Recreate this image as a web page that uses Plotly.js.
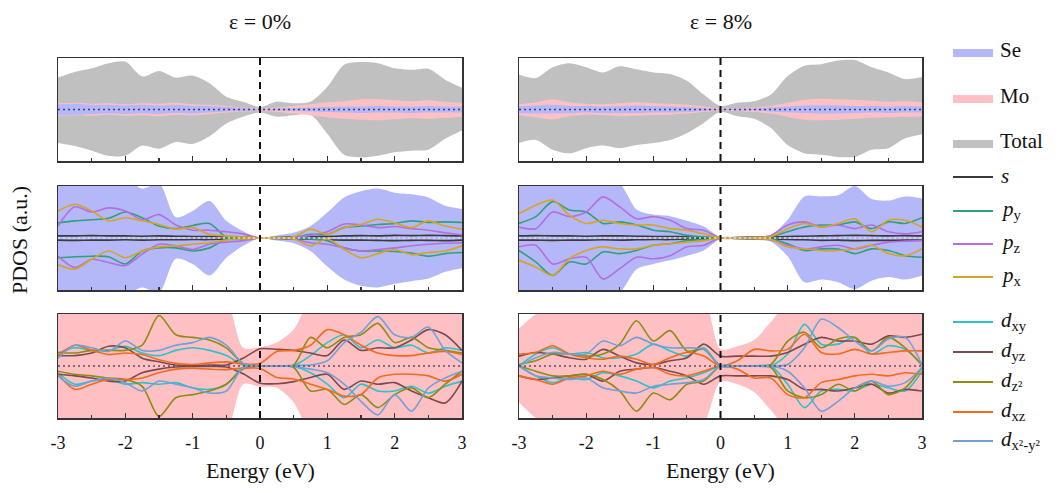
<!DOCTYPE html>
<html><head><meta charset="utf-8">
<script src="https://cdn.plot.ly/plotly-3.0.1.min.js"></script>
<style>html,body{margin:0;padding:0;background:#fff}#chart{width:1060px;height:493px}</style>
</head><body><div id="chart"></div>
<script>
// ---------------- DATA ----------------
const energy = [-3,-2.75,-2.5,-2.25,-2,-1.75,-1.5,-1.25,-1,-0.75,-0.5,-0.25,0,0.25,0.5,0.75,1,1.25,1.5,1.75,2,2.25,2.5,2.75,3];
const tickVals = [-3,-2,-1,0,1,2,3];
const tickLabels = ['-3','-2','-1','0','1','2','3'];
const strainTitles = ['ε = 0%','ε = 8%'];

// Top row: Total / Mo / Se (strain 0%)
const tl_total_up = [0.62,0.73,0.80,0.90,0.93,0.64,0.75,0.62,0.66,0.51,0.25,0.15,0.05,0.15,0.12,0.15,0.44,0.87,0.92,0.90,0.80,0.77,0.79,0.58,0.42];
const tl_total_dn = [-0.65,-0.71,-0.80,-0.90,-0.90,-0.70,-0.76,-0.63,-0.67,-0.52,-0.27,-0.14,-0.06,-0.14,-0.11,-0.10,-0.47,-0.88,-0.93,-0.90,-0.83,-0.80,-0.78,-0.57,-0.41];
const tl_mo_up = [0.12,0.13,0.11,0.12,0.10,0.12,0.11,0.13,0.10,0.09,0.07,0.04,0.02,0.04,0.07,0.10,0.14,0.16,0.20,0.20,0.18,0.16,0.18,0.15,0.13];
const tl_mo_dn = [-0.13,-0.11,-0.12,-0.10,-0.12,-0.11,-0.13,-0.10,-0.11,-0.09,-0.06,-0.04,-0.02,-0.05,-0.08,-0.11,-0.15,-0.18,-0.20,-0.21,-0.19,-0.17,-0.18,-0.16,-0.14];
const tl_se_up = [0.10,0.11,0.09,0.09,0.08,0.09,0.08,0.09,0.07,0.07,0.05,0.03,0.01,0.02,0.03,0.04,0.05,0.06,0.06,0.07,0.06,0.06,0.07,0.06,0.06];
const tl_se_dn = [-0.11,-0.10,-0.09,-0.08,-0.09,-0.08,-0.09,-0.07,-0.08,-0.06,-0.04,-0.03,-0.01,-0.02,-0.03,-0.04,-0.05,-0.06,-0.07,-0.06,-0.06,-0.07,-0.06,-0.06,-0.06];
// Top row (strain 8%)
const tr_total_up = [0.68,0.61,0.82,0.90,0.82,0.72,0.84,0.78,0.72,0.69,0.56,0.29,0.07,0.13,0.16,0.29,0.65,0.85,0.88,0.95,0.96,0.82,0.72,0.59,0.63];
const tr_total_dn = [-0.65,-0.59,-0.78,-0.85,-0.75,-0.70,-0.75,-0.69,-0.65,-0.59,-0.46,-0.26,-0.05,-0.13,-0.18,-0.36,-0.69,-0.85,-0.88,-0.92,-0.92,-0.78,-0.75,-0.56,-0.48];
const tr_mo_up = [0.10,0.14,0.20,0.14,0.11,0.10,0.12,0.14,0.12,0.11,0.09,0.06,0.02,0.03,0.04,0.07,0.13,0.19,0.21,0.20,0.19,0.17,0.15,0.16,0.14];
const tr_mo_dn = [-0.11,-0.15,-0.19,-0.13,-0.10,-0.11,-0.13,-0.12,-0.11,-0.10,-0.08,-0.05,-0.02,-0.03,-0.05,-0.08,-0.14,-0.20,-0.21,-0.20,-0.18,-0.16,-0.15,-0.14,-0.13];
const tr_se_up = [0.07,0.08,0.09,0.07,0.07,0.06,0.07,0.08,0.07,0.06,0.05,0.03,0.01,0.02,0.02,0.04,0.06,0.08,0.08,0.08,0.07,0.07,0.06,0.07,0.06];
const tr_se_dn = [-0.07,-0.08,-0.08,-0.07,-0.06,-0.07,-0.07,-0.07,-0.06,-0.06,-0.05,-0.03,-0.01,-0.02,-0.02,-0.04,-0.06,-0.07,-0.08,-0.08,-0.07,-0.06,-0.07,-0.06,-0.06];

// Middle row: Se projected (strain 0%)
const ml_se_up = [1.2,1.2,1.2,1.2,1.15,0.95,1.05,0.40,0.52,0.71,0.33,0.13,0.0,0.05,0.10,0.23,0.49,0.78,0.90,0.95,0.87,0.84,0.78,0.62,0.56];
const ml_se_dn = [-1.2,-1.2,-1.2,-1.2,-1.1,-0.95,-1.05,-0.40,-0.50,-0.72,-0.38,-0.15,0.0,-0.05,-0.10,-0.25,-0.55,-0.80,-0.92,-0.95,-0.88,-0.83,-0.78,-0.65,-0.58];
const ml_s_up = [0.04,0.04,0.045,0.04,0.04,0.035,0.04,0.035,0.03,0.03,0.025,0.015,0.0,0.01,0.02,0.025,0.03,0.04,0.045,0.04,0.05,0.045,0.05,0.045,0.04];
const ml_s_dn = [-0.04,-0.045,-0.04,-0.04,-0.035,-0.04,-0.035,-0.035,-0.03,-0.03,-0.02,-0.015,0.0,-0.01,-0.02,-0.025,-0.035,-0.04,-0.04,-0.045,-0.05,-0.045,-0.045,-0.05,-0.04];
const ml_py_up = [0.29,0.33,0.35,0.38,0.50,0.39,0.23,0.18,0.24,0.28,0.02,0.01,0,0,0.01,0.07,0.07,0.20,0.23,0.26,0.28,0.33,0.30,0.31,0.30];
const ml_pz_up = [0.23,0.60,0.50,0.58,0.52,0.35,0.45,0.25,0.15,0.15,0.12,0.08,0,0,0.01,0.05,0.12,0.27,0.25,0.20,0.22,0.18,0.15,0.10,0.06];
const ml_px_up = [0.52,0.65,0.52,0.33,0.39,0.33,0.26,0.17,0.20,0.07,0.04,0.02,0,0,0.02,0.17,0.07,0.20,0.26,0.36,0.29,0.20,0.33,0.23,0.17];
const ml_py_dn = [-0.38,-0.36,-0.35,-0.36,-0.50,-0.25,-0.19,-0.19,-0.25,-0.19,-0.02,-0.01,0,0,-0.01,-0.02,-0.05,-0.19,-0.25,-0.25,-0.26,-0.29,-0.35,-0.30,-0.28];
const ml_pz_dn = [-0.35,-0.57,-0.41,-0.47,-0.53,-0.31,-0.12,-0.15,-0.22,-0.12,-0.08,-0.05,0,0,-0.02,-0.09,-0.12,-0.19,-0.25,-0.22,-0.19,-0.15,-0.12,-0.10,-0.09];
const ml_px_dn = [-0.51,-0.60,-0.41,-0.25,-0.38,-0.25,-0.17,-0.15,-0.12,-0.09,-0.04,-0.02,0,0,-0.02,-0.15,-0.02,-0.22,-0.38,-0.30,-0.22,-0.32,-0.28,-0.25,-0.15];
// Middle row (strain 8%)
const mr_se_up = [1.2,1.2,1.2,1.2,1.2,1.15,1.05,0.55,0.45,0.42,0.33,0.22,0.02,0.03,0.04,0.06,0.35,0.80,0.80,0.82,1.0,0.75,0.72,0.80,0.76];
const mr_se_dn = [-1.2,-1.2,-1.2,-1.2,-1.2,-1.15,-1.05,-0.60,-0.50,-0.43,-0.34,-0.24,-0.02,-0.03,-0.04,-0.07,-0.35,-0.85,-0.80,-0.85,-0.98,-0.82,-0.75,-0.80,-0.72];
const mr_s_up = [0.04,0.045,0.04,0.04,0.035,0.04,0.04,0.035,0.03,0.03,0.025,0.015,0.0,0.01,0.015,0.02,0.03,0.035,0.04,0.045,0.05,0.045,0.04,0.045,0.04];
const mr_s_dn = [-0.04,-0.04,-0.045,-0.04,-0.04,-0.035,-0.04,-0.035,-0.03,-0.03,-0.02,-0.015,0.0,-0.01,-0.015,-0.02,-0.03,-0.035,-0.045,-0.04,-0.05,-0.045,-0.045,-0.04,-0.04];
const mr_py_up = [0.28,0.41,0.70,0.54,0.50,0.28,0.31,0.25,0.15,0.12,0.05,0.02,0,0,0.01,0.03,0.12,0.21,0.25,0.25,0.31,0.18,0.31,0.28,0.39];
const mr_pz_up = [0.21,0.18,0.50,0.41,0.50,0.79,0.60,0.37,0.41,0.34,0.18,0.15,0,0,0.01,0.05,0.25,0.31,0.21,0.25,0.18,0.25,0.12,0.08,0.12];
const mr_px_up = [0.47,0.63,0.73,0.44,0.28,0.34,0.28,0.25,0.25,0.18,0.15,0.08,0,0,0.01,0.03,0.18,0.28,0.21,0.28,0.37,0.12,0.34,0.34,0.21];
const mr_py_dn = [-0.24,-0.46,-0.72,-0.46,-0.50,-0.27,-0.30,-0.24,-0.14,-0.11,-0.05,-0.03,0,0,-0.01,-0.02,-0.11,-0.24,-0.21,-0.21,-0.30,-0.21,-0.24,-0.34,-0.37];
const mr_pz_dn = [-0.17,-0.14,-0.50,-0.40,-0.37,-0.79,-0.59,-0.37,-0.40,-0.34,-0.17,-0.14,0,0,-0.01,-0.04,-0.14,-0.21,-0.17,-0.14,-0.21,-0.14,-0.08,-0.06,-0.05];
const mr_px_dn = [-0.43,-0.56,-0.72,-0.40,-0.24,-0.17,-0.21,-0.21,-0.14,-0.11,-0.08,-0.05,0,0,-0.01,-0.03,-0.17,-0.21,-0.24,-0.24,-0.21,-0.14,-0.30,-0.34,-0.21];

// Bottom row: Mo projected (strain 0%)
const bl_mo_up = [1.2,1.2,1.2,1.2,1.2,1.2,1.2,1.2,1.2,1.2,1.25,0.35,0.36,0.45,0.70,1.25,1.2,1.2,1.2,1.2,1.2,1.2,1.2,1.2,1.2];
const bl_mo_dn = [-1.2,-1.2,-1.2,-1.2,-1.2,-1.2,-1.2,-1.2,-1.2,-1.2,-1.25,-0.35,-0.40,-0.42,-0.70,-1.25,-1.2,-1.2,-1.2,-1.2,-1.2,-1.2,-1.2,-1.2,-1.2];
const bl_dxy_up = [0.25,0.35,0.30,0.30,0.38,0.25,0.20,0.30,0.35,0.30,0.20,0.02,0,0,0.01,0.20,0.45,0.60,0.35,0.50,0.35,0.40,0.25,0.35,0.30];
const bl_dyz_up = [0.20,0.20,0.25,0.38,0.35,0.15,0.08,0.02,0.01,0.02,0.02,0.15,0.33,0.32,0.30,0.25,0.20,0.50,0.30,0.35,0.35,0.50,0.70,0.60,0.30];
const bl_dz2_up = [0.26,0.25,0.30,0.30,0.30,0.40,0.97,0.60,0.55,0.50,0.35,0.05,0,0,0.02,0.55,0.35,0.55,0.60,0.82,0.45,0.55,0.35,0.30,0.25];
const bl_dxz_up = [0.20,0.40,0.30,0.22,0.25,0.22,0.12,0.05,0.03,0.06,0.08,0.04,0.05,0.28,0.30,0.40,0.70,0.60,0.40,0.25,0.20,0.20,0.25,0.28,0.22];
const bl_dx2_up = [0.15,0.40,0.35,0.28,0.48,0.30,0.30,0.40,0.45,0.55,0.40,0.05,0,0,0.01,0.02,0.10,0.45,0.65,0.95,0.60,0.55,0.75,0.30,0.06];
const bl_dxy_dn = [-0.13,-0.35,-0.29,-0.26,-0.35,-0.32,-0.35,-0.32,-0.42,-0.45,-0.35,-0.03,0,0,-0.01,-0.13,-0.35,-0.61,-0.35,-0.48,-0.48,-0.39,-0.52,-0.39,-0.29];
const bl_dyz_dn = [-0.16,-0.19,-0.23,-0.29,-0.29,-0.13,-0.06,-0.02,-0.01,-0.01,-0.02,-0.15,-0.33,-0.34,-0.30,-0.22,-0.16,-0.45,-0.29,-0.35,-0.32,-0.48,-0.61,-0.71,-0.29];
const bl_dz2_dn = [-0.10,-0.16,-0.19,-0.23,-0.26,-0.39,-0.97,-0.61,-0.55,-0.48,-0.35,-0.06,0,0,-0.03,-0.48,-0.45,-0.74,-0.55,-0.80,-0.55,-0.42,-0.61,-0.35,-0.10];
const bl_dxz_dn = [-0.16,-0.45,-0.35,-0.26,-0.26,-0.23,-0.13,-0.06,-0.04,-0.06,-0.07,-0.04,-0.05,-0.22,-0.25,-0.35,-0.45,-0.58,-0.55,-0.23,-0.16,-0.16,-0.19,-0.29,-0.16];
const bl_dx2_dn = [-0.19,-0.39,-0.29,-0.23,-0.32,-0.48,-0.29,-0.35,-0.42,-0.52,-0.48,-0.03,0,0,-0.01,-0.06,-0.13,-0.35,-0.68,-0.94,-0.55,-0.87,-0.42,-0.23,-0.10];
// Bottom row (strain 8%)
const br_mo_up = [0.72,1.0,1.2,1.2,1.2,1.2,1.2,1.2,1.2,1.2,1.2,1.3,0.32,0.38,0.50,0.85,1.2,1.2,1.2,1.2,1.2,1.2,1.2,1.2,1.2];
const br_mo_dn = [-0.70,-1.0,-1.2,-1.2,-1.2,-1.2,-1.2,-1.2,-1.2,-1.2,-1.2,-1.1,-0.30,-0.35,-0.50,-0.85,-1.2,-1.2,-1.2,-1.2,-1.2,-1.2,-1.2,-1.2,-1.2];
const br_dxy_up = [0.0,0.23,0.35,0.23,0.26,0.16,0.16,0.23,0.42,0.29,0.19,0.35,0,0,0,0.0,0.23,0.80,0.42,0.42,0.55,0.23,0.39,0.32,0.02];
const br_dyz_up = [0.19,0.26,0.23,0.16,0.13,0.32,0.19,0.06,0.03,0.10,0.16,0.42,0.19,0.19,0.19,0.19,0.26,0.42,0.55,0.48,0.48,0.42,0.58,0.55,0.61];
const br_dz2_up = [0.03,0.10,0.23,0.23,0.19,0.23,0.42,0.87,0.48,0.68,0.29,0.32,0,0,0,0.03,0.48,0.65,0.35,0.52,0.55,0.29,0.55,0.35,0.02];
const br_dxz_up = [0.23,0.26,0.39,0.23,0.16,0.13,0.19,0.13,0.03,0.16,0.26,0.19,0.0,0.10,0.32,0.29,0.32,0.61,0.26,0.23,0.32,0.23,0.26,0.29,0.29];
const br_dx2_up = [0.0,0.16,0.26,0.23,0.23,0.48,0.39,0.55,0.42,0.35,0.35,0.32,0,0,0,0.0,0.03,0.35,0.90,0.74,0.48,0.29,0.52,0.55,0.02];
const br_dxy_dn = [0,-0.19,-0.32,-0.23,-0.26,-0.13,-0.19,-0.29,-0.42,-0.29,-0.23,-0.13,0,0,0,0,-0.35,-0.80,-0.48,-0.45,-0.48,-0.35,-0.42,-0.48,-0.10];
const br_dyz_dn = [-0.19,-0.26,-0.23,-0.19,-0.16,-0.29,-0.10,-0.06,-0.03,-0.10,-0.19,-0.35,-0.19,-0.19,-0.19,-0.19,-0.26,-0.45,-0.45,-0.48,-0.42,-0.35,-0.52,-0.45,-0.48];
const br_dz2_dn = [0,-0.10,-0.19,-0.19,-0.16,-0.26,-0.48,-0.87,-0.52,-0.65,-0.35,-0.29,0,0,0,-0.03,-0.48,-0.61,-0.55,-0.35,-0.48,-0.29,-0.55,-0.42,-0.03];
const br_dxz_dn = [-0.19,-0.26,-0.35,-0.23,-0.19,-0.10,-0.16,-0.06,-0.03,-0.16,-0.19,-0.10,0,-0.06,-0.23,-0.23,-0.55,-0.61,-0.32,-0.26,-0.19,-0.16,-0.19,-0.13,-0.16];
const br_dx2_dn = [0,-0.19,-0.23,-0.26,-0.23,-0.42,-0.48,-0.52,-0.39,-0.35,-0.32,-0.26,0,0,0,0,-0.10,-0.42,-0.87,-0.68,-0.42,-0.29,-0.39,-0.32,-0.03];

const legendFills = ['Se','Mo','Total'];
const legendLines = ['<i>s</i>','<i>p</i><sub>y</sub>','<i>p</i><sub>z</sub>','<i>p</i><sub>x</sub>','<i>d</i><sub>xy</sub>','<i>d</i><sub>yz</sub>','<i>d</i><sub>z²</sub>','<i>d</i><sub>xz</sub>','<i>d</i><sub>x²-y²</sub>'];

// ---------------- STYLE ----------------
const C = {se:'rgb(180,184,248)', mo:'rgb(255,192,196)', total:'rgb(192,192,192)',
  s:'#3a3a3a', py:'#2ea07a', pz:'#b46ee0', px:'#d6a424',
  dxy:'#2cc3c8', dyz:'#7c4a4c', dz2:'#8c8c14', dxz:'#f06c1c', dx2:'#6fa0d8'};
const W = 1060, H = 493;
const fx = p => p / W, fy = p => 1 - p / H;
const SERIF = "'Liberation Serif', 'Times New Roman', Times, serif";

const traces = [];
function fillTrace(ax, y, color) {
  traces.push({x: energy, y: y, xaxis: ax[0], yaxis: ax[1], type: 'scatter', mode: 'lines',
    line: {width: 0, shape: 'spline', smoothing: 0.8, color: color}, fill: 'tozeroy', fillcolor: color,
    hoverinfo: 'skip', showlegend: false});
}
function lineTrace(ax, y, color, w) {
  traces.push({x: energy, y: y, xaxis: ax[0], yaxis: ax[1], type: 'scatter', mode: 'lines',
    line: {width: w || 1.6, shape: 'spline', smoothing: 0.8, color: color},
    hoverinfo: 'skip', showlegend: false});
}

const AX = [['x','y'],['x2','y2'],['x3','y3'],['x4','y4'],['x5','y5'],['x6','y6']];
// top row
[[AX[0], tl_total_up, tl_total_dn, tl_mo_up, tl_mo_dn, tl_se_up, tl_se_dn],
 [AX[1], tr_total_up, tr_total_dn, tr_mo_up, tr_mo_dn, tr_se_up, tr_se_dn]].forEach(p => {
  fillTrace(p[0], p[1], C.total); fillTrace(p[0], p[2], C.total);
  fillTrace(p[0], p[3], C.mo); fillTrace(p[0], p[4], C.mo);
  fillTrace(p[0], p[5], C.se); fillTrace(p[0], p[6], C.se);
});
// middle row
[[AX[2], ml_se_up, ml_se_dn, ml_s_up, ml_s_dn, ml_py_up, ml_py_dn, ml_pz_up, ml_pz_dn, ml_px_up, ml_px_dn],
 [AX[3], mr_se_up, mr_se_dn, mr_s_up, mr_s_dn, mr_py_up, mr_py_dn, mr_pz_up, mr_pz_dn, mr_px_up, mr_px_dn]].forEach(p => {
  fillTrace(p[0], p[1], C.se); fillTrace(p[0], p[2], C.se);
  lineTrace(p[0], p[3], C.s); lineTrace(p[0], p[4], C.s);
  lineTrace(p[0], p[5], C.py); lineTrace(p[0], p[6], C.py);
  lineTrace(p[0], p[7], C.pz); lineTrace(p[0], p[8], C.pz);
  lineTrace(p[0], p[9], C.px); lineTrace(p[0], p[10], C.px);
});
// bottom row
[[AX[4], bl_mo_up, bl_mo_dn, bl_dxy_up, bl_dxy_dn, bl_dyz_up, bl_dyz_dn, bl_dz2_up, bl_dz2_dn, bl_dxz_up, bl_dxz_dn, bl_dx2_up, bl_dx2_dn],
 [AX[5], br_mo_up, br_mo_dn, br_dxy_up, br_dxy_dn, br_dyz_up, br_dyz_dn, br_dz2_up, br_dz2_dn, br_dxz_up, br_dxz_dn, br_dx2_up, br_dx2_dn]].forEach(p => {
  fillTrace(p[0], p[1], C.mo); fillTrace(p[0], p[2], C.mo);
  lineTrace(p[0], p[3], C.dxy); lineTrace(p[0], p[4], C.dxy);
  lineTrace(p[0], p[5], C.dyz); lineTrace(p[0], p[6], C.dyz);
  lineTrace(p[0], p[7], C.dz2); lineTrace(p[0], p[8], C.dz2);
  lineTrace(p[0], p[9], C.dxz); lineTrace(p[0], p[10], C.dxz);
  lineTrace(p[0], p[11], C.dx2); lineTrace(p[0], p[12], C.dx2);
});

// ---------------- LAYOUT ----------------
const colX = [[58, 462], [519, 922]];
const rowY = [[58, 161], [186, 290], [314, 418]];
const zeroColors = ['#3b3b86', '#dcdcdc', '#5a4a66'];
const layout = {width: W, height: H, margin: {l: 0, r: 0, t: 0, b: 0}, paper_bgcolor: '#fff', plot_bgcolor: '#fff',
  showlegend: false, font: {family: SERIF, color: '#111'}, shapes: [], annotations: []};

AX.forEach((ax, i) => {
  const row = Math.floor(i / 2), col = i % 2;
  const xn = 'xaxis' + (i === 0 ? '' : (i + 1)), yn = 'yaxis' + (i === 0 ? '' : (i + 1));
  layout[xn] = {domain: [fx(colX[col][0]), fx(colX[col][1])], anchor: ax[1], range: [-3, 3],
    showline: true, mirror: true, linecolor: '#333', linewidth: 1.5, showgrid: false, zeroline: false,
    ticks: 'inside', ticklen: 5, tickwidth: 1.3, tickcolor: '#333', tickvals: tickVals, ticktext: tickLabels,
    minor: {ticks: 'inside', ticklen: 3, tickwidth: 1.1, tickcolor: '#333', dtick: 0.5, tick0: -3, showgrid: false},
    showticklabels: row === 2, tickfont: {family: SERIF, size: 18, color: '#111'}, ticklabelstandoff: 8,
    automargin: false, fixedrange: true};
  layout[yn] = {domain: [fy(rowY[row][1]), fy(rowY[row][0])], anchor: ax[0], range: [-1, 1],
    showline: true, mirror: true, linecolor: '#333', linewidth: 1.5, showgrid: false, zeroline: false,
    ticks: '', showticklabels: false, automargin: false, fixedrange: true};
  layout.shapes.push({type: 'line', xref: ax[0], yref: ax[1], x0: -3, x1: 3, y0: 0, y1: 0,
    line: {color: zeroColors[row], width: 1.5, dash: '2px,3px'}, layer: 'above'});
  layout.shapes.push({type: 'line', xref: ax[0], yref: ax[1] + ' domain', x0: 0, x1: 0, y0: 0, y1: 1,
    line: {color: '#111', width: 2, dash: '7px,5px'}, layer: 'above'});
});

// Titles
strainTitles.forEach((t, c) => {
  layout.annotations.push({text: t, xref: 'paper', yref: 'paper', x: fx((colX[c][0] + colX[c][1]) / 2), y: fy(22),
    xanchor: 'center', yanchor: 'middle', showarrow: false, font: {family: SERIF, size: 22, color: '#111'}});
  layout.annotations.push({text: 'Energy (eV)', xref: 'paper', yref: 'paper', x: fx((colX[c][0] + colX[c][1]) / 2), y: fy(470),
    xanchor: 'center', yanchor: 'middle', showarrow: false, font: {family: SERIF, size: 22, color: '#111'}});
});
layout.annotations.push({text: 'PDOS (a.u.)', xref: 'paper', yref: 'paper', x: fx(19), y: fy(240), textangle: -90,
  xanchor: 'center', yanchor: 'middle', showarrow: false, font: {family: SERIF, size: 22, color: '#111'}});

// Custom legend
const fillY = [53, 99, 144];
const fillCols = [C.se, C.mo, C.total];
legendFills.forEach((t, k) => {
  layout.shapes.push({type: 'rect', xref: 'paper', yref: 'paper', x0: fx(953), x1: fx(993), y0: fy(fillY[k] + 4), y1: fy(fillY[k] - 4),
    fillcolor: fillCols[k], line: {width: 0}});
  layout.annotations.push({text: t, xref: 'paper', yref: 'paper', x: fx(998), y: fy(fillY[k] - 3), xanchor: 'left', yanchor: 'middle',
    showarrow: false, font: {family: SERIF, size: 21, color: '#111'}});
});
const lineY = [177, 211, 244, 277, 322, 352, 382, 412, 441];
const lineCols = [C.s, C.py, C.pz, C.px, C.dxy, C.dyz, C.dz2, C.dxz, C.dx2];
legendLines.forEach((t, k) => {
  layout.shapes.push({type: 'line', xref: 'paper', yref: 'paper', x0: fx(953), x1: fx(993), y0: fy(lineY[k]), y1: fy(lineY[k]),
    line: {color: lineCols[k], width: 2.2}});
  layout.annotations.push({text: t, xref: 'paper', yref: 'paper', x: fx(999), y: fy(lineY[k] - 1), xanchor: 'left', yanchor: 'middle',
    showarrow: false, font: {family: SERIF, size: 21, color: '#111'}});
});

Plotly.newPlot('chart', traces, layout, {staticPlot: true, displayModeBar: false});
</script>
</body></html>
